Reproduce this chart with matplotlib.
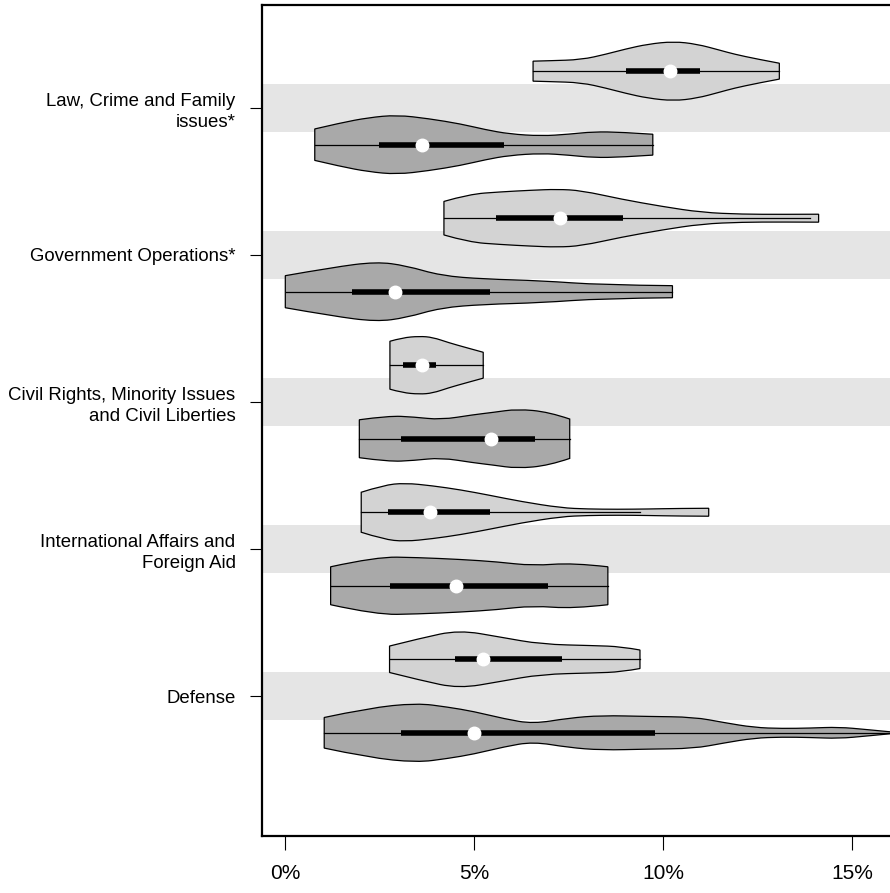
import numpy as np
import matplotlib
matplotlib.use("Agg")
import matplotlib.pyplot as plt
from matplotlib.path import Path
from matplotlib.patches import PathPatch

plt.rcParams['font.family'] = ['Liberation Sans', 'DejaVu Sans']

# categories, top to bottom
categories = ["Law, Crime and Family\nissues*", "Government Operations*",
              "Civil Rights, Minority Issues\nand Civil Liberties",
              "International Affairs and\nForeign Aid", "Defense"]
positions = [5, 4, 3, 2, 1]

# violin outlines: x (%) and half-width (y units)
light_x = [
    [6.56, 7.0, 7.84, 8.5, 9.0, 9.6, 10.28, 10.9, 11.5, 11.88, 12.5, 13.08],
    [4.20, 4.86, 5.7, 6.5, 7.2, 7.84, 8.9, 9.97, 11.03, 12.1, 13.15, 14.12],
    [2.77, 3.1, 3.55, 3.9, 4.33, 4.8, 5.24],
    [2.01, 2.6, 3.16, 3.9, 4.65, 5.4, 6.24, 7.3, 8.0, 8.8, 9.6, 10.4, 11.21],
    [2.76, 3.58, 4.6, 5.71, 6.78, 8.16, 8.9, 9.39],
]
light_w = [
    [0.068, 0.071, 0.078, 0.116, 0.150, 0.184, 0.202, 0.184, 0.143, 0.116, 0.082, 0.054],
    [0.114, 0.163, 0.179, 0.190, 0.197, 0.188, 0.129, 0.080, 0.039, 0.027, 0.026, 0.027],
    [0.163, 0.187, 0.197, 0.190, 0.153, 0.119, 0.088],
    [0.136, 0.184, 0.199, 0.180, 0.152, 0.116, 0.073, 0.030, 0.022, 0.020, 0.022, 0.026, 0.027],
    [0.090, 0.143, 0.199, 0.150, 0.102, 0.093, 0.086, 0.063],
]
dark_x = [
    [0.78, 1.46, 2.2, 2.95, 3.8, 4.65, 5.3, 5.93, 6.78, 7.5, 8.16, 8.9, 9.73],
    [0.0, 1.24, 2.41, 3.2, 4.12, 5.27, 6.78, 8.37, 10.25],
    [1.96, 2.73, 3.4, 4.12, 4.97, 5.5, 6.14, 6.98, 7.53],
    [1.20, 2.41, 3.5, 4.65, 5.6, 6.56, 7.62, 8.54],
    [1.03, 2.2, 3.48, 4.3, 4.99, 5.8, 6.56, 7.5, 8.37, 9.6, 10.82, 11.6,
     12.41, 13.15, 13.9, 14.65, 15.4, 16.2],
]
dark_w = [
    [0.107, 0.148, 0.184, 0.202, 0.177, 0.141, 0.102, 0.073, 0.059, 0.071, 0.088, 0.085, 0.071],
    [0.109, 0.165, 0.204, 0.177, 0.109, 0.086, 0.075, 0.046, 0.041],
    [0.129, 0.156, 0.148, 0.129, 0.163, 0.179, 0.202, 0.182, 0.134],
    [0.129, 0.197, 0.192, 0.179, 0.163, 0.136, 0.156, 0.129],
    [0.104, 0.168, 0.202, 0.175, 0.145, 0.095, 0.061, 0.100, 0.118, 0.111,
     0.107, 0.070, 0.036, 0.029, 0.032, 0.039, 0.022, 0.002],
]

# summary: lower whisker, q1, median, q3, upper whisker
light_stats = [
    [6.56, 9.01, 10.18, 10.98, 13.08],
    [4.20, 5.57, 7.28, 8.93, 13.90],
    [2.77, 3.11, 3.62, 3.98, 5.24],
    [2.01, 2.73, 3.83, 5.41, 9.38],
    [2.76, 4.48, 5.24, 7.33, 9.39],
]
dark_stats = [
    [0.78, 2.49, 3.63, 5.80, 9.73],
    [0.01, 1.77, 2.90, 5.41, 10.25],
    [1.96, 3.07, 5.45, 6.60, 7.53],
    [1.20, 2.76, 4.53, 6.95, 8.54],
    [1.03, 3.05, 5.00, 9.78, 16.2],
]

xticks = [0, 5, 10, 15]
xticklabels = ["0%", "5%", "10%", "15%"]


def smooth_path(xs, ws, y0):
    # quadratic bezier through knot midpoints, flat ends like vioplot
    top = [(x, y0 + w) for x, w in zip(xs, ws)]
    bot = [(x, y0 - w) for x, w in zip(xs, ws)][::-1]
    verts = [(xs[0], y0), top[0]]
    codes = [Path.MOVETO, Path.LINETO]
    for side in (top, bot):
        if side is bot:
            verts.append(bot[0])
            codes.append(Path.LINETO)
        for i in range(1, len(side) - 1):
            mid = ((side[i][0] + side[i + 1][0]) / 2, (side[i][1] + side[i + 1][1]) / 2)
            if i == len(side) - 2:
                mid = side[i + 1]
            verts += [side[i], mid]
            codes += [Path.CURVE3, Path.CURVE3]
    verts.append((xs[0], y0))
    codes.append(Path.CLOSEPOLY)
    return Path(verts, codes)


def draw_violin(ax, xs, ws, stats, y0, color):
    ax.add_patch(PathPatch(smooth_path(xs, ws, y0), facecolor=color,
                           edgecolor='black', lw=0.9, zorder=2))
    ax.plot([stats[0], stats[4]], [y0, y0], color='black', lw=0.9, zorder=3)
    ax.plot([stats[1], stats[3]], [y0, y0], color='black', lw=4,
            solid_capstyle='butt', zorder=3)
    ax.plot(stats[2], y0, 'o', color='white', markersize=9, zorder=4)


fig = plt.figure(figsize=(8.9, 8.93), dpi=100)
ax = fig.add_axes([262 / 890, 57 / 893, 1 - 262 / 890, 831 / 893])

for i, p in enumerate(positions):
    ax.axhspan(p - 0.165, p + 0.165, color='#e5e5e5', lw=0, zorder=0)
    draw_violin(ax, light_x[i], light_w[i], light_stats[i], p + 0.25, '#d3d3d3')
    draw_violin(ax, dark_x[i], dark_w[i], dark_stats[i], p - 0.25, '#a9a9a9')

ax.set_xlim(-0.617, 16.01)
ax.set_ylim(0.048, 5.70)
ax.set_yticks(positions)
ax.set_yticklabels(categories, fontsize=13.4, linespacing=1.3)
ax.set_xticks(xticks)
ax.set_xticklabels(xticklabels, fontsize=15)
ax.tick_params(axis='y', length=9, width=0.8, pad=10)
ax.tick_params(axis='x', length=10, width=0.8, pad=10.5)
ax.spines['right'].set_visible(False)
for s in ('left', 'top', 'bottom'):
    ax.spines[s].set_linewidth(1.6)

fig.savefig("out.png", dpi=100)
